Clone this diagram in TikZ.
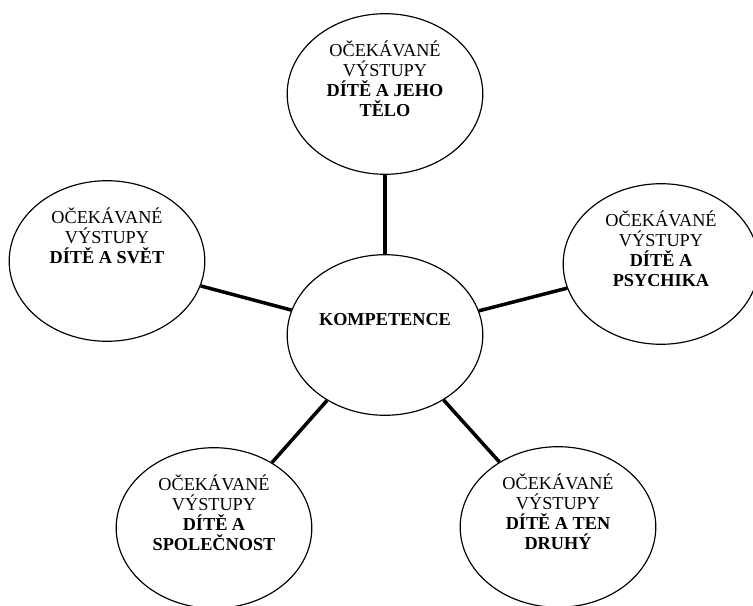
\documentclass[tikz,border=0pt]{standalone}
\usepackage{fontspec}
\setmainfont{Liberation Serif}
\usetikzlibrary{shapes}
\tikzset{
  bubble/.style={ellipse, draw, line width=0.8pt, minimum width=134pt, minimum height=110pt, inner sep=0pt},
  bubbletext/.style={anchor=north, align=center, inner sep=0pt, font=\fontsize{12.5}{13.7}\selectfont},
  spoke/.style={line width=2.4pt}
}
\newcommand{\bubble}[4]{ \node[bubble] (#1) at ( #2 , #3 ) {}; \node[bubbletext] (#1txt) at ([yshift=-18.5pt]#1.north) {OČEKÁVANÉ\\VÝSTUPY\\#4};}

\begin{document}
\begin{tikzpicture}[x=0.685pt, y=-0.685pt]
        \useasboundingbox (0,0) rectangle (753,606);
        % middle
        \node[bubble] (komp) at (385,335) {};
        \node[bubbletext, anchor=center] (komptxt) at (385,320) {\textbf{KOMPETENCE}};
        % outer ring
        \bubble{telo}{385}{94}{\textbf{DÍTĚ A JEHO}\\\textbf{TĚLO}}
        \bubble{svet}{107}{261}{\textbf{DÍTĚ A SVĚT}}
        \bubble{psych}{661}{264}{\textbf{DÍTĚ A}\\\textbf{PSYCHIKA}}
        \bubble{spol}{214}{528}{\textbf{DÍTĚ A}\\\textbf{SPOLEČNOST}}
        \bubble{druhy}{558}{527}{\textbf{DÍTĚ A TEN}\\\textbf{DRUHÝ}}
        % spokes
        \draw[spoke] (komp) -- (telo);
        \draw[spoke] (komp) -- (svet);
        \draw[spoke] (komp) -- (psych);
        \draw[spoke] (komp) -- (spol);
        \draw[spoke] (komp) -- (druhy);
    \end{tikzpicture}
\end{document}
